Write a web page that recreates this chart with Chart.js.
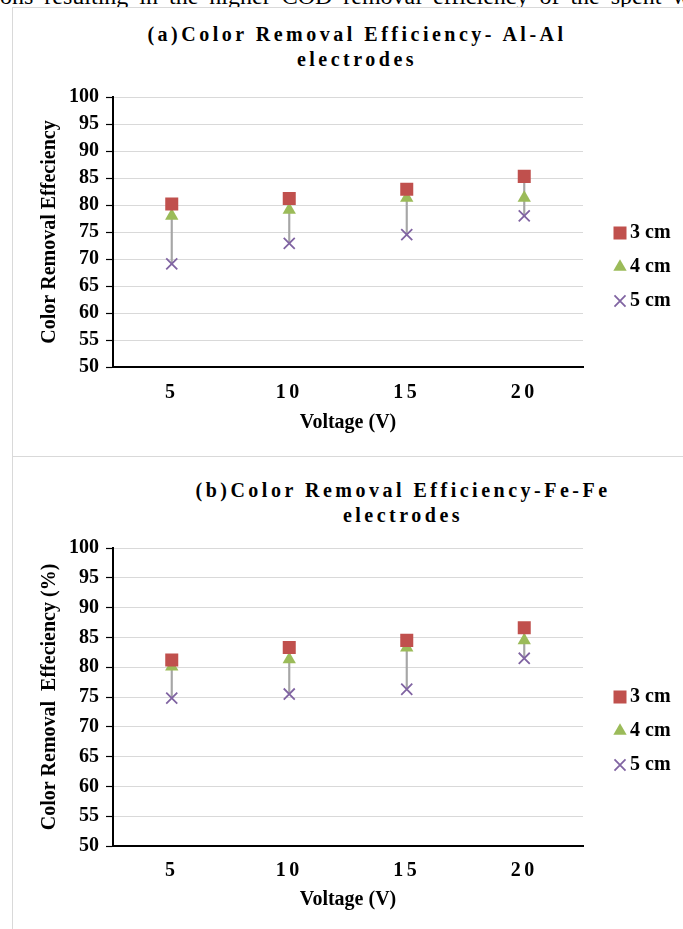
<!DOCTYPE html>
<html><head><meta charset="utf-8">
<script src="https://cdn.jsdelivr.net/npm/chart.js@4.4.1/dist/chart.umd.min.js"></script>
<style>
html,body{margin:0;padding:0;background:#fff;}
body{width:683px;height:929px;overflow:hidden;position:relative;font-family:"Liberation Serif","Times New Roman",serif;}
.topline{position:absolute;left:0;top:-16px;font-size:24px;line-height:24px;white-space:nowrap;word-spacing:5px;color:#000;}
.box{position:absolute;left:12px;width:700px;border:1px solid #d9d9d9;background:#fff;}
.ttl{position:absolute;font-weight:bold;font-size:20px;line-height:25px;letter-spacing:3.5px;text-align:center;white-space:nowrap;transform:translateX(-50%);color:#000;}
canvas{position:absolute;left:0;}
</style></head><body>
<div class="topline">ons resulting in the higher COD removal efficiency of the spent w</div>
<div class="box" style="top:7px;height:448px"></div>
<div class="box" style="top:456px;height:500px"></div>
<div class="ttl" style="left:357px;top:22px">(a)Color Removal Efficiency- Al-Al<br>electrodes</div>
<div class="ttl" style="left:403px;top:478px">(b)Color Removal Efficiency-Fe-Fe<br>electrodes</div>
<canvas id="chartA" width="683" height="448" style="top:8px"></canvas>
<canvas id="chartB" width="683" height="471" style="top:458px"></canvas>
<script>
// ---- data ----
const voltages = ['5', '10', '15', '20'];
const seriesNames = ['3 cm', '4 cm', '5 cm'];
const alAl_3cm = [80.2, 81.2, 82.9, 85.3];
const alAl_4cm = [78.0, 79.1, 81.3, 81.3];
const alAl_5cm = [69.1, 72.9, 74.5, 78.0];
const feFe_3cm = [81.2, 83.3, 84.5, 86.6];
const feFe_4cm = [80.1, 81.3, 83.3, 84.5];
const feFe_5cm = [74.8, 75.5, 76.3, 81.5];
const yMin = 50, yMax = 100, yStep = 5;
const xTitle = 'Voltage (V)';
const yTitleA = 'Color Removal Effeciency';
const yTitleB = 'Color Removal  Effeciency (%)';

// ---- styles ----
const FONT = '"Liberation Serif", "Times New Roman", serif';
const markerStyles = [
  {pointStyle: 'rect', color: '#C0504D', radius: 9.2, border: 0},
  {pointStyle: 'triangle', color: '#9BBB59', radius: 7.7, border: 0},
  {pointStyle: 'crossRot', color: '#8064A2', radius: 7.8, border: 1.8}
];
const hiLoColor = '#a6a6a6';

const spacedXLabels = {
  id: 'spacedXLabels',
  afterLayout(chart) {
    const s = chart.scales.x;
    if (s && !s._spaced) {
      const orig = s.drawLabels;
      s.drawLabels = function (area) {
        const ctx = this.ctx;
        ctx.save();
        ctx.letterSpacing = '3.5px';
        orig.call(this, area);
        ctx.restore();
      };
      s._spaced = true;
    }
  }
};

const sideLegend = {
  id: 'sideLegend',
  afterDraw(chart, args, opts) {
    const {ctx, chartArea} = chart;
    const items = chart.data.datasets.filter(d => d.inLegend);
    const cy = (chartArea.top + chartArea.bottom) / 2 + opts.offsetY;
    items.forEach((ds, i) => {
      const y = cy + i * opts.step;
      const x = chartArea.right + opts.markerX;
      ctx.save();
      ctx.fillStyle = ds.backgroundColor;
      ctx.strokeStyle = ds.borderColor;
      ctx.lineWidth = ds.borderWidth;
      Chart.helpers.drawPoint(ctx, {pointStyle: ds.pointStyle, radius: ds.pointRadius, rotation: 0, borderWidth: ds.borderWidth}, x, y);
      ctx.fillStyle = '#000';
      ctx.font = 'bold 20px ' + FONT;
      ctx.textBaseline = 'middle';
      ctx.textAlign = 'left';
      ctx.fillText(ds.label, chartArea.right + opts.textX, y);
      ctx.restore();
    });
  }
};

function build(id, s3, s4, s5, yTitle, L) {
  const series = [s3, s4, s5];
  const low = voltages.map((_, i) => Math.min(s3[i], s4[i], s5[i]));
  const high = voltages.map((_, i) => Math.max(s3[i], s4[i], s5[i]));
  const datasets = series.map((vals, k) => ({
    type: 'line', label: seriesNames[k], data: vals, showLine: false,
    pointStyle: markerStyles[k].pointStyle, pointRadius: markerStyles[k].radius,
    backgroundColor: markerStyles[k].color, borderColor: markerStyles[k].color,
    borderWidth: markerStyles[k].border, pointBorderWidth: markerStyles[k].border,
    inLegend: true, order: 1
  }));
  datasets.push({
    type: 'bar', label: 'High-Low', data: low.map((v, i) => [v, high[i]]),
    backgroundColor: hiLoColor, borderWidth: 0, barThickness: 1.5, order: 5, inLegend: false
  });
  const tickFont = {family: FONT, size: 20, weight: 'bold'};
  return new Chart(document.getElementById(id), {
    type: 'line',
    data: {labels: voltages, datasets},
    options: {
      responsive: false, animation: false, events: [],
      layout: {padding: {top: L.top, right: 100, left: 0, bottom: 0}},
      plugins: {
        legend: {display: false}, tooltip: {enabled: false},
        sideLegend: {offsetY: L.legOff, step: 34, markerX: 37, textX: 47}
      },
      scales: {
        x: {
          type: 'category', offset: true,
          grid: {display: false, drawTicks: false},
          border: {display: true, color: '#000', width: 2},
          ticks: {color: '#000', font: tickFont, padding: L.tickPad, maxRotation: 0},
          title: {display: true, text: xTitle, color: '#000', font: tickFont, padding: {top: 0, bottom: L.titlePad}},
          afterFit: s => { s.height = L.xHeight; }
        },
        y: {
          type: 'linear', min: yMin, max: yMax,
          ticks: {stepSize: yStep, color: '#000', font: tickFont, padding: 7},
          grid: {color: '#d9d9d9', lineWidth: 1, tickColor: '#000', tickLength: 7, tickWidth: 1.2, drawTicks: true},
          border: {display: true, color: '#000', width: 2},
          title: {display: true, text: yTitle, color: '#000', font: tickFont, padding: {top: 38, bottom: 0}},
          afterFit: s => { s.width = 113; }
        }
      }
    },
    plugins: [spacedXLabels, sideLegend]
  });
}

build('chartA', alAl_3cm, alAl_4cm, alAl_5cm, yTitleA, {top: 89, xHeight: 89, tickPad: 14, titlePad: 21, legOff: 1});
build('chartB', feFe_3cm, feFe_4cm, feFe_5cm, yTitleB, {top: 90, xHeight: 83, tickPad: 13, titlePad: 17, legOff: 0});
</script>
</body></html>
